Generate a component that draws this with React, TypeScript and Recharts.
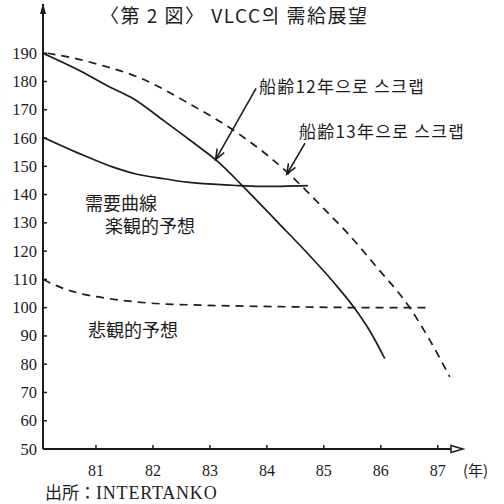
import React from 'react';
import { LineChart, Line, XAxis, YAxis, ReferenceLine } from 'recharts';

// year ticks and value ticks
const yearTicks = [81, 82, 83, 84, 85, 86, 87];
const valueTicks = [50, 60, 70, 80, 90, 100, 110, 120, 130, 140, 150, 160, 170, 180, 190];

// supply: scrapped at 12 years (solid)
const scrap12Years = [80.07, 80.7, 81.25, 81.65, 82.2, 82.7, 83.12, 83.65, 84.2, 84.7, 85.2, 85.54, 85.8, 86.07];
const scrap12Values = [190, 184, 178, 174, 166, 158.5, 152, 141.5, 130, 119.5, 108.3, 99.8, 92, 82];

// supply: scrapped at 13 years (dashed)
const scrap13Years = [80.15, 80.6, 81.07, 81.77, 82.65, 83.47, 84.35, 84.63, 85.0, 85.4, 85.93, 86.5, 86.86, 87.21];
const scrap13Values = [190, 188.3, 185.9, 181.3, 172, 162, 148, 142.6, 135, 126.7, 114.3, 100.2, 88.5, 75.5];

// demand: optimistic (solid) / pessimistic (dashed)
const optimisticYears = [80.07, 80.77, 81.3, 81.72, 82.2, 82.6, 83.4, 83.9, 84.72];
const optimisticValues = [160.3, 154, 149.7, 147.2, 145.6, 144.4, 143.3, 142.9, 143.2];
const pessimisticYears = [80.07, 80.4, 80.77, 81.07, 81.95, 82.82, 83.7, 84.8, 85.8, 86.86];
const pessimisticValues = [110, 107, 104.8, 103.7, 101.6, 100.9, 100.5, 100.2, 100, 100];

const toRows = (xs: number[], vs: number[]) => xs.map((x, i) => ({ x, v: vs[i] }));

const INK = '#1c1c1c';
const SERIF = '"Liberation Serif", "DejaVu Serif", serif';
const CJK = '"Noto Sans CJK JP", "Noto Sans CJK KR", sans-serif';

const XTick = (props: any) => {
  const { x, y, payload } = props;
  return (
    <g>
      <line x1={x} y1={y} x2={x} y2={y - 4} stroke={INK} strokeWidth={1.5} />
      <text x={x} y={y + 27} textAnchor="middle" fontFamily={SERIF} fontSize={16} fill={INK}>
        {payload.value}
      </text>
    </g>
  );
};

const YTick = (props: any) => {
  const { x, y, payload } = props;
  return (
    <g>
      <line x1={x} y1={y} x2={x + 4} y2={y} stroke={INK} strokeWidth={1.5} />
      <text x={x - 6} y={y + 5.5} textAnchor="end" fontFamily={SERIF} fontSize={16.5} fill={INK}>
        {payload.value}
      </text>
    </g>
  );
};

// arrow from label to curve
const arrowShape = (props: any) => {
  const { x1, y1, x2, y2 } = props;
  const a = Math.atan2(y2 - y1, x2 - x1);
  const len = 11;
  const spread = 0.38;
  const p1x = x2 - len * Math.cos(a - spread);
  const p1y = y2 - len * Math.sin(a - spread);
  const p2x = x2 - len * Math.cos(a + spread);
  const p2y = y2 - len * Math.sin(a + spread);
  return (
    <g>
      <line x1={x1} y1={y1} x2={x2} y2={y2} stroke={INK} strokeWidth={1.6} />
      <polyline points={`${p1x},${p1y} ${x2},${y2} ${p2x},${p2y}`} fill="none" stroke={INK} strokeWidth={1.6} />
    </g>
  );
};

const Label: React.FC<{ left: number; top: number; size: number; spacing?: number; children: React.ReactNode }> = ({ left, top, size, spacing, children }) => (
  <div style={{ position: 'absolute', left, top, fontSize: size, lineHeight: 1, letterSpacing: spacing || 0, whiteSpace: 'nowrap', color: INK, fontFamily: CJK }}>
    {children}
  </div>
);

export default function App() {
  return (
    <div style={{ position: 'absolute', left: 0, top: 0, width: 504, height: 504, background: '#fff', overflow: 'hidden' }}>
      <LineChart width={504} height={504} margin={{ top: 8, right: 44, bottom: 25, left: 0 }}>
        <XAxis
          dataKey="x"
          type="number"
          domain={[80.07, 87.39]}
          ticks={yearTicks}
          allowDataOverflow
          height={30}
          tickSize={0}
          tickMargin={0}
          tick={<XTick />}
          axisLine={{ stroke: INK, strokeWidth: 2 }}
        />
        <YAxis
          type="number"
          domain={[50, 206]}
          ticks={valueTicks}
          allowDataOverflow
          width={43}
          tickSize={0}
          tickMargin={0}
          tick={<YTick />}
          axisLine={{ stroke: INK, strokeWidth: 2 }}
        />
        <Line data={toRows(scrap12Years, scrap12Values)} dataKey="v" type="monotone" stroke={INK} strokeWidth={1.7} dot={false} isAnimationActive={false} />
        <Line data={toRows(scrap13Years, scrap13Values)} dataKey="v" type="monotone" stroke={INK} strokeWidth={1.7} strokeDasharray="8 6" dot={false} isAnimationActive={false} />
        <Line data={toRows(optimisticYears, optimisticValues)} dataKey="v" type="monotone" stroke={INK} strokeWidth={1.7} dot={false} isAnimationActive={false} />
        <Line data={toRows(pessimisticYears, pessimisticValues)} dataKey="v" type="monotone" stroke={INK} strokeWidth={1.7} strokeDasharray="8 6" dot={false} isAnimationActive={false} />
        <ReferenceLine segment={[{ x: 83.81, y: 177.6 }, { x: 83.1, y: 152.4 }]} shape={arrowShape} />
        <ReferenceLine segment={[{ x: 84.67, y: 158.2 }, { x: 84.35, y: 147.2 }]} shape={arrowShape} />
      </LineChart>

      {/* axis arrowheads */}
      <svg width={504} height={504} style={{ position: 'absolute', left: 0, top: 0, pointerEvents: 'none' }}>
        <line x1={43} y1={14} x2={43} y2={4} stroke={INK} strokeWidth={2} />
        <polygon points="43,3 40,14 46,14" fill={INK} />
        <polygon points="451,445.5 463,449 451,452.5" fill="#fff" stroke={INK} strokeWidth={1.5} />
      </svg>

      <Label left={100} top={5} size={19} spacing={1.5}>〈第 2 図〉 VLCC의 需給展望</Label>
      <Label left={259} top={77} size={17} spacing={1.3}>船齢12年으로 스크랩</Label>
      <Label left={299} top={122} size={17} spacing={1.3}>船齢13年으로 스크랩</Label>
      <Label left={85} top={193} size={18}>需要曲線</Label>
      <Label left={105} top={216} size={18}>楽観的予想</Label>
      <Label left={88} top={320} size={18}>悲観的予想</Label>
      <Label left={463} top={462} size={15}>(年)</Label>
      <Label left={45} top={483} size={17}>
        出所：<span style={{ fontFamily: SERIF, fontSize: 18, letterSpacing: 0.8 }}>INTERTANKO</span>
      </Label>
    </div>
  );
}
